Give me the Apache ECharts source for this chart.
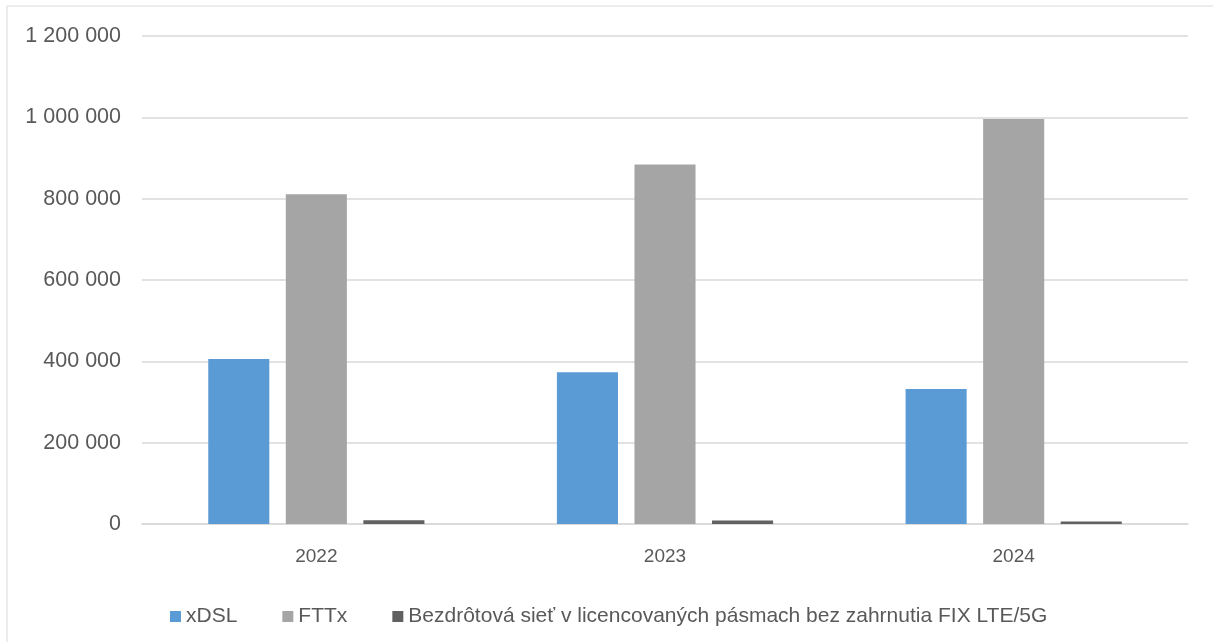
<!DOCTYPE html>
<html>
<head>
<meta charset="utf-8">
<script src="https://cdn.jsdelivr.net/npm/echarts@6/dist/echarts.min.js"></script>
<style>
  html, body { margin: 0; padding: 0; background: #fff; }
  #chart { width: 1213px; height: 642px; }
</style>
</head>
<body>
<div id="chart"></div>
<script>
const years = ["2022", "2023", "2024"];
const xdslValues = [406000, 373000, 332000];
const fttxValues = [811000, 884000, 996000];
const wirelessValues = [9000, 8500, 6000];
const seriesNames = ["xDSL", "FTTx", "Bezdrôtová sieť v licencovaných pásmach bez zahrnutia FIX LTE/5G"];
const seriesColors = ["#5b9bd5", "#a5a5a5", "#616161"];

const textColor = "#595959";
const fontFamily = "'Liberation Sans', Arial, sans-serif";

// thousands with a space, like "1 200 000"
function formatNumber(value) {
  return String(value).replace(/\B(?=(\d{3})+(?!\d))/g, " ");
}

const chart = echarts.init(document.getElementById("chart"));

const option = {
  animation: false,
  backgroundColor: "#fff",
  textStyle: { fontFamily: fontFamily },
  graphic: [
    {
      type: "rect",
      shape: { x: 7, y: 6, width: 1230, height: 660 },
      style: { fill: "none", stroke: "#d9d9d9", lineWidth: 1 },
      silent: true,
    },
  ],
  legend: {
    left: 165,
    top: 601,
    icon: "rect",
    itemWidth: 11,
    itemHeight: 11,
    itemGap: 45,
    textStyle: { color: textColor, fontSize: 21, fontFamily: fontFamily },
    data: seriesNames,
  },
  grid: {
    left: 142,
    right: 25,
    top: 36,
    bottom: 118,
  },
  xAxis: {
    type: "category",
    data: years,
    axisLine: { lineStyle: { color: "#d9d9d9", width: 1.5 } },
    axisTick: { show: false },
    axisLabel: { color: textColor, fontSize: 19, margin: 23 },
  },
  yAxis: {
    type: "value",
    min: 0,
    max: 1200000,
    interval: 200000,
    axisLine: { show: false },
    axisTick: { show: false },
    splitLine: { lineStyle: { color: "#d9d9d9", width: 1.5 } },
    axisLabel: {
      color: textColor,
      fontSize: 21.5,
      margin: 21,
      formatter: formatNumber,
    },
  },
  series: [
    {
      name: seriesNames[0],
      type: "bar",
      data: xdslValues,
      itemStyle: { color: seriesColors[0] },
      barGap: "27%",
      barCategoryGap: "38%",
    },
    {
      name: seriesNames[1],
      type: "bar",
      data: fttxValues,
      itemStyle: { color: seriesColors[1] },
    },
    {
      name: seriesNames[2],
      type: "bar",
      data: wirelessValues,
      itemStyle: { color: seriesColors[2] },
    },
  ],
};

chart.setOption(option);
</script>
</body>
</html>
